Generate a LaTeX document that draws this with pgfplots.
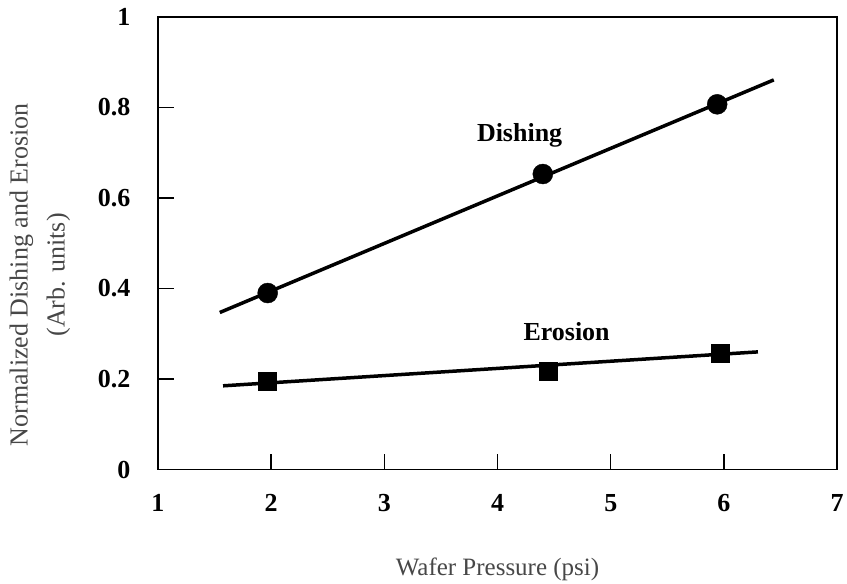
\documentclass[border=0pt]{standalone}
\usepackage{pgfplots}
\pgfplotsset{compat=1.18}
\usepackage{fontspec}
\setmainfont{Liberation Serif}
\begin{document}
\begin{tikzpicture}
\begin{axis}[
  name=ax,
  scale only axis,
  width=680bp, height=453bp,
  xmin=1, xmax=7, ymin=0, ymax=1,
  xtick={1,2,3,4,5,6,7},
  ytick={0,0.2,0.4,0.6,0.8,1},
  yticklabels={0,0.2,0.4,0.6,0.8,1},
  xticklabels={1,2,3,4,5,6,7},
  tick align=inside,
  xtick pos=bottom, ytick pos=left,
  major tick length=16bp,
  axis line style={line width=1.5bp},
  every tick/.style={black, line width=1.3bp},
  /pgf/number format/assume math mode=true,
  ticklabel style={font=\fontsize{26bp}{28bp}\selectfont\bfseries},
  yticklabel style={xshift=-24bp},
  xticklabel style={yshift=-21bp},
  xlabel={Wafer Pressure (psi)},
  ylabel={Normalized Dishing and Erosion\\(Arb. units)},
  label style={text=black!72},
  xlabel style={font=\fontsize{25bp}{30bp}\selectfont, at={(axis description cs:0.5,-0.22)}, anchor=center},
  ylabel style={font=\fontsize{26bp}{37bp}\selectfont, at={(axis description cs:-0.1735,0.43)}, anchor=center, align=center, rotate=0},
  clip=false,
]
% Dishing fitted line
\addplot[black, line width=3.5bp, no markers] coordinates {(1.547,0.347) (6.44,0.861)};
\addplot[only marks, mark=*, mark size=10bp, black] coordinates {(1.97,0.39) (4.40,0.653) (5.94,0.807)};
% Erosion fitted line
\addplot[black, line width=3.5bp, no markers] coordinates {(1.576,0.185) (6.30,0.260)};
\addplot[only marks, mark=square*, mark size=9bp, black] coordinates {(1.97,0.196) (4.45,0.217) (5.97,0.258)};
\node[font=\fontsize{26bp}{28bp}\selectfont\bfseries] at (axis cs:4.195,0.738) {Dishing};
\node[font=\fontsize{26bp}{28bp}\selectfont\bfseries] at (axis cs:4.61,0.305) {Erosion};
\end{axis}
\path[use as bounding box] ([shift={(-158bp,-114bp)}]ax.south west) rectangle ([shift={(9bp,17bp)}]ax.north east);
\end{tikzpicture}
\end{document}
